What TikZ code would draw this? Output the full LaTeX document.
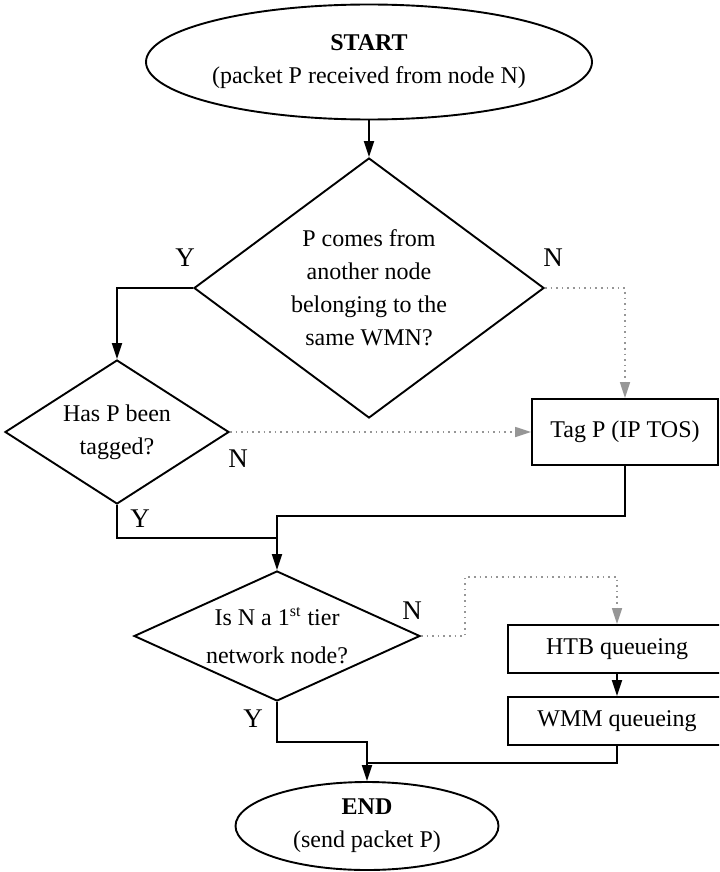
\documentclass[tikz,border=0pt]{standalone}
\usepackage{fontspec}
\setmainfont{Liberation Serif}
\usetikzlibrary{shapes.geometric,arrows.meta}
\definecolor{dotgray}{RGB}{150,150,150}
\begin{document}
\begin{tikzpicture}[x=0.5pt,y=-0.5pt,
  txt/.style={font=\fontsize{12}{16.5}\selectfont,align=center,inner sep=0pt},
  term/.style={draw,ellipse,line width=0.95pt,inner sep=0pt},
  decision/.style={draw,diamond,line width=0.95pt,inner sep=0pt},
  procbox/.style={draw,rectangle,line width=0.95pt,inner sep=0pt,font=\fontsize{12}{16.5}\selectfont},
  flow/.style={line width=0.95pt,-{Triangle[length=8pt,width=5pt]}},
  flowplain/.style={line width=0.95pt},
  altflow/.style={dotgray,line width=0.8pt,dotted,-{Triangle[length=8pt,width=5pt]}},
  yn/.style={font=\fontsize{13.5}{15}\selectfont,inner sep=0pt}]
\useasboundingbox (0,0) rectangle (719,872);
\clip (0,0) rectangle (719,872);

% terminals
\node[term,minimum width=223pt,minimum height=57.5pt] (start) at (369,62) {};
\node[txt] (startt) at (start) {\textbf{START}\\(packet P received from node N)};
\node[term,minimum width=131.5pt,minimum height=44pt] (endn) at (367,826) {};
\node[txt] (endt) at (endn) {\textbf{END}\\(send packet P)};

% decisions
\node[decision,minimum width=175pt,minimum height=130pt] (d1) at (369,288) {};
\node[txt] (d1t) at (d1) {P comes from\\another node\\belonging to the\\same WMN?};
\node[decision,minimum width=112pt,minimum height=72pt] (d2) at (117,432) {};
\node[txt] (d2t) at (d2) {Has P been\\tagged?};
\node[decision,minimum width=143pt,minimum height=65pt] (d3) at (277,636) {};
\node[txt,font=\fontsize{12}{19}\selectfont] (d3t) at (d3) {Is N a 1\textsuperscript{st} tier\\network node?};

% processes
\node[procbox,minimum width=93pt,minimum height=33pt] (tag) at (625,432) {Tag P (IP TOS)};
\node[procbox,minimum width=109pt,minimum height=24pt] (htb) at (617,649) {HTB queueing};
\node[procbox,minimum width=109pt,minimum height=24pt] (wmm) at (617,721) {WMM queueing};

% branch labels
\node[yn] (y1) at (185,258) {Y};
\node[yn] (n1) at (553,258) {N};
\node[yn] (n2) at (238,459) {N};
\node[yn] (y2) at (140,519) {Y};
\node[yn] (n3) at (412,611) {N};
\node[yn] (y3) at (253,719) {Y};

% junction points
\coordinate (j1) at (277,516);
\coordinate (j2) at (277,538);
\coordinate (k)  at (465,577);
\coordinate (j3) at (367,763);
\coordinate (j4) at (367,742);

% connectors
\draw[flow] (start) -- (d1);
\draw[flow] (d1.west) -| (d2.north);
\draw[altflow] (d1.east) -| (tag.north);
\draw[altflow] (d2.east) -- (tag.west);
\draw[flow] (tag.south) |- (j1) -- (d3.north);
\draw[flowplain] (d2.south) |- (j2);
\draw[altflow] (d3.east) -| (k) -| (htb.north);
\draw[flow] (htb) -- (wmm);
\draw[flowplain] (wmm.south) |- (j3);
\draw[flow] (d3.south) |- (j4) -- (endn.north);
\end{tikzpicture}
\end{document}
